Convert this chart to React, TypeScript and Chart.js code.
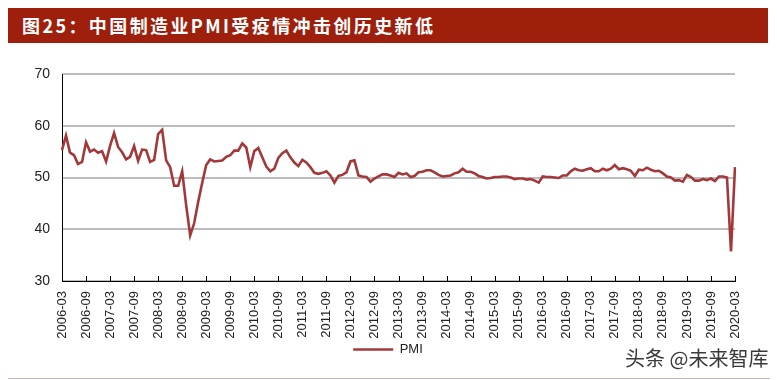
import React, { useEffect, useRef } from "react";
import { Chart, registerables } from "chart.js";

Chart.register(...registerables);

// Monthly official manufacturing PMI, 2006-03 .. 2020-03
const pmi2006 = [55.3, 58.1, 54.8, 54.3, 52.6, 53.0, 56.8, 55.0, 55.4, 54.8];
const pmi2007 = [55.1, 53.1, 56.1, 58.6, 55.9, 54.9, 53.5, 54.0, 56.1, 53.2, 55.4, 55.3];
const pmi2008 = [53.0, 53.4, 58.4, 59.2, 53.3, 52.0, 48.4, 48.4, 51.2, 44.6, 38.8, 41.2];
const pmi2009 = [45.3, 49.0, 52.4, 53.5, 53.1, 53.2, 53.3, 54.0, 54.3, 55.2, 55.2, 56.6];
const pmi2010 = [55.8, 52.0, 55.1, 55.7, 53.9, 52.1, 51.2, 51.7, 53.8, 54.7, 55.2, 53.9];
const pmi2011 = [52.9, 52.2, 53.4, 52.9, 52.0, 50.9, 50.7, 50.9, 51.2, 50.4, 49.0, 50.3];
const pmi2012 = [50.5, 51.0, 53.1, 53.3, 50.4, 50.2, 50.1, 49.2, 49.8, 50.2, 50.6, 50.6];
const pmi2013 = [50.4, 50.1, 50.9, 50.6, 50.8, 50.1, 50.3, 51.0, 51.1, 51.4, 51.4, 51.0];
const pmi2014 = [50.5, 50.2, 50.3, 50.4, 50.8, 51.0, 51.7, 51.1, 51.1, 50.8, 50.3, 50.1];
const pmi2015 = [49.8, 49.9, 50.1, 50.1, 50.2, 50.2, 50.0, 49.7, 49.8, 49.8, 49.6, 49.7];
const pmi2016 = [49.4, 49.0, 50.2, 50.1, 50.1, 50.0, 49.9, 50.4, 50.4, 51.2, 51.7, 51.4];
const pmi2017 = [51.3, 51.6, 51.8, 51.2, 51.2, 51.7, 51.4, 51.7, 52.4, 51.6, 51.8, 51.6];
const pmi2018 = [51.3, 50.3, 51.5, 51.4, 51.9, 51.5, 51.2, 51.3, 50.8, 50.2, 50.0, 49.4];
const pmi2019 = [49.5, 49.2, 50.5, 50.1, 49.4, 49.4, 49.7, 49.5, 49.8, 49.3, 50.2, 50.2];
const pmi2020 = [50.0, 35.7, 52.0];

const pmiValues = [
  ...pmi2006, ...pmi2007, ...pmi2008, ...pmi2009, ...pmi2010,
  ...pmi2011, ...pmi2012, ...pmi2013, ...pmi2014, ...pmi2015,
  ...pmi2016, ...pmi2017, ...pmi2018, ...pmi2019, ...pmi2020,
];

const startYear = 2006;
const startMonth = 3;
const categories: string[] = pmiValues.map((_, i) => {
  const m0 = startMonth - 1 + i;
  const y = startYear + Math.floor(m0 / 12);
  const m = (m0 % 12) + 1;
  return `${y}-${m < 10 ? "0" + m : m}`;
});
const labelEvery = 6;

const titleText = "图25：中国制造业PMI受疫情冲击创历史新低";
const seriesName = "PMI";
const watermark = "头条 @未来智库";

const LINE_COLOR = "#A3383A";
const FONT = "'Liberation Sans', Arial, sans-serif";

const innerTicks = {
  id: "innerTicks",
  afterDraw(chart: any) {
    const xs = chart.scales.x;
    const ctx = chart.ctx;
    const bottom = chart.chartArea.bottom;
    ctx.save();
    ctx.strokeStyle = "#000";
    ctx.lineWidth = 1;
    ctx.beginPath();
    for (let i = 0; i < categories.length; i += labelEvery) {
      const x = Math.round(xs.getPixelForValue(i)) + 0.5;
      ctx.moveTo(x, bottom);
      ctx.lineTo(x, bottom - 5);
    }
    ctx.stroke();
    ctx.restore();
  },
};

export default function App() {
  const ref = useRef<HTMLCanvasElement | null>(null);

  useEffect(() => {
    if (!ref.current) return;
    const chart = new Chart(ref.current, {
      type: "line",
      data: {
        labels: categories,
        datasets: [
          {
            label: seriesName,
            data: pmiValues,
            borderColor: LINE_COLOR,
            backgroundColor: LINE_COLOR,
            borderWidth: 2.6,
            pointRadius: 0,
            pointStyle: "line",
            tension: 0,
            yAxisID: "y",
          },
        ],
      },
      options: {
        animation: false,
        responsive: false,
        devicePixelRatio: 1,
        layout: { padding: { top: 74, left: 0, right: 1, bottom: 14 } },
        plugins: {
          tooltip: { enabled: false },
          legend: {
            position: "bottom",
            labels: {
              usePointStyle: true,
              pointStyleWidth: 40,
              color: "#222",
              padding: 2,
              font: { family: FONT, size: 13 },
            },
          },
        },
        scales: {
          x: {
            offset: false,
            grid: { display: false, drawTicks: false },
            border: { display: true, color: "#000", width: 1 },
            ticks: {
              autoSkip: false,
              minRotation: 90,
              maxRotation: 90,
              padding: 10,
              color: "#222",
              font: { family: FONT, size: 13 },
              callback: (_v: any, i: number) =>
                i % labelEvery === 0 ? categories[i] : null,
            },
            afterFit: (s: any) => {
              s.height = 60;
            },
          },
          y: {
            position: "left",
            min: 30,
            max: 70,
            ticks: {
              stepSize: 10,
              padding: 12,
              color: "#222",
              font: { family: FONT, size: 14 },
            },
            grid: { color: "#BDBDBD", lineWidth: 2, drawTicks: false },
            border: { display: true, color: "#000", width: 1 },
            afterFit: (s: any) => {
              s.width = 62;
            },
          },
          yRight: {
            position: "right",
            min: 0,
            max: 1,
            grid: { display: false, drawTicks: false },
            border: { display: false },
            ticks: { display: false },
            afterFit: (s: any) => {
              s.width = 41;
            },
          },
        },
      },
      plugins: [innerTicks],
    });
    return () => chart.destroy();
  }, []);

  return (
    <div
      style={{
        position: "fixed",
        left: 0,
        top: 0,
        width: 777,
        height: 380,
        background: "#fff",
        overflow: "hidden",
      }}
    >
      <canvas
        ref={ref}
        width={777}
        height={380}
        style={{ position: "absolute", left: 0, top: 0, width: 777, height: 380 }}
      />
      <div
        style={{
          position: "absolute",
          left: 8,
          top: 8,
          width: 760,
          height: 35,
          background: "#9E1F0C",
          color: "#fff",
          fontFamily: "'Noto Sans CJK SC', sans-serif",
          fontWeight: 700,
          fontSize: 18,
          letterSpacing: 2.4,
          lineHeight: "35px",
          paddingLeft: 14,
          boxSizing: "border-box",
          whiteSpace: "nowrap",
        }}
      >
        {titleText}
      </div>
      <div
        style={{
          position: "absolute",
          left: 625,
          top: 344,
          fontFamily: "'Noto Sans CJK SC', sans-serif",
          fontSize: 20,
          lineHeight: "28px",
          color: "#3a3a3a",
          whiteSpace: "nowrap",
        }}
      >
        {watermark}
      </div>
      <div
        style={{
          position: "absolute",
          left: 8,
          top: 378,
          width: 762,
          height: 1,
          background: "#D4B4B4",
        }}
      />
    </div>
  );
}
